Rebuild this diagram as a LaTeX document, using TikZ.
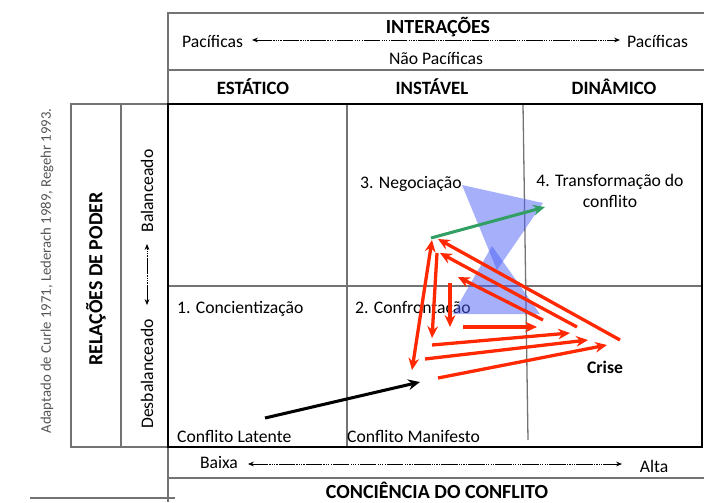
\documentclass[tikz,border=0pt]{standalone}
\usepackage{fontspec}
\setmainfont{Carlito}
\usetikzlibrary{arrows.meta}
\definecolor{linha}{RGB}{115,115,115}
\definecolor{vermelho}{RGB}{255,40,0}
\definecolor{verde}{RGB}{50,160,100}
\definecolor{azul}{RGB}{75,95,245}
\definecolor{cinza}{RGB}{85,85,85}

\tikzset{
  txt/.style={font=\fontsize{15}{18}\selectfont, inner sep=0pt},
  cabec/.style={font=\fontsize{16}{19}\selectfont\bfseries, inner sep=0pt},
  titulo/.style={font=\fontsize{17}{20}\selectfont\bfseries, inner sep=0pt},
  grade/.style={linha, line width=1.1pt},
  moldura/.style={black, line width=1.8pt},
  escala/.style={{Stealth[length=5pt,width=4pt]}-{Stealth[length=5pt,width=4pt]}, line width=0.6pt,
    dash pattern=on 14pt off 1pt on 1pt off 1pt on 1pt off 1pt on 1pt off 1pt on 1pt off 1pt},
  seta/.style={vermelho, line width=2.8pt, -{Stealth[length=10pt,width=9pt]}},
}

\begin{document}
\begin{tikzpicture}[x=0.85pt,y=-0.85pt]
    \useasboundingbox (0,0) rectangle (704,502);

    % quadro
    \draw[grade] (168,104) -- (168,13) -- (704,13);
    \draw[grade] (168,70) -- (704,70);
    \draw[grade] (71,104) rectangle (168,447);
    \draw[grade] (121,104) -- (121,447);
    \draw[grade] (347,104) -- (347,447);
    \draw[grade] (523,104) -- (528,440);
    \draw[grade] (168,286) -- (702,286);
    \draw[grade] (168,447) -- (168,502);
    \draw[grade] (168,478) -- (704,478);
    \draw[grade] (30,498) -- (175,498);
    \draw[moldura] (168,104) rectangle (702,447);

    % interacoes
    \node[titulo] (inter) at (438,27) {INTERAÇÕES};
    \node[txt, anchor=west] (pacE) at (182,41) {Pacíficas};
    \node[txt, anchor=west] (pacD) at (627,41) {Pacíficas};
    \node[txt] (naopac) at (436,58) {Não Pacíficas};
    \coordinate (i1) at (252,40);
    \coordinate (i2) at (620,40);
    \draw[escala] (i1) -- (i2);

    \node[cabec] (est) at (253,87) {ESTÁTICO};
    \node[cabec] (inst) at (432,87) {INSTÁVEL};
    \node[cabec] (din) at (614,87) {DINÂMICO};

    % poder
    \node[txt, rotate=90, text=cinza, font=\fontsize{12.5}{14}\selectfont] (fonte) at (47,271) {Adaptado de Curle 1971, Lederach 1989, Regehr 1993.};
    \node[titulo, rotate=90] (poder) at (96,279) {RELAÇÕES DE PODER};
    \node[txt, rotate=90] (bal) at (147,191) {Balanceado};
    \node[txt, rotate=90] (desbal) at (147,374) {Desbalanceado};
    \coordinate (p1) at (147,305);
    \coordinate (p2) at (147,244);
    \draw[escala] (p1) -- (p2);

    % celulas
    \node[txt, anchor=west] (concient) at (177,309) {1. Concientização};
    \node[txt, anchor=west] (confront) at (355,309) {2. Confrontação};
    \node[txt, anchor=west] (negoc) at (360,184) {3. Negociação};
    \node[txt, align=center] (transf) at (610,191) {4. Transformação do\\conflito};
    \node[txt, anchor=west] (latente) at (177,436) {Conflito Latente};
    \node[txt, anchor=west] (manif) at (347,436) {Conflito Manifesto};
    \node[cabec, font=\fontsize{15}{18}\selectfont\bfseries] (crise) at (605,367) {Crise};

    % consciencia
    \node[txt] (baixa) at (219,462) {Baixa};
    \node[txt] (alta) at (654,466) {Alta};
    \coordinate (c1) at (248,464);
    \coordinate (c2) at (622,464);
    \draw[escala] (c1) -- (c2);
    \node[titulo] (consc) at (437,490) {CONCIÊNCIA DO CONFLITO};

    % triangulos
    \fill[azul, opacity=.5] (462,185) -- (543,203) -- (497,270) -- cycle;
    \fill[azul, opacity=.5] (492,246) -- (540,314) -- (453,314) -- cycle;

    % setas
    \coordinate (lat) at (265,418);
    \coordinate (man) at (420,382);
    \draw[black, line width=2.6pt, -{Stealth[length=10pt,width=9pt]}] (lat) -- (man);

    \coordinate (neg) at (431,238);
    \coordinate (tra) at (545,207);
    \draw[verde, line width=2.6pt, -{Stealth[length=10pt,width=9pt]}] (neg) -- (tra);

    \coordinate (r1a) at (620,340);  \coordinate (r1b) at (438,239);
    \coordinate (r2a) at (577,327);  \coordinate (r2b) at (440,253);
    \coordinate (r3a) at (543,320);  \coordinate (r3b) at (458,277);
    \coordinate (r4a) at (450,283);  \coordinate (r4b) at (450,327);
    \coordinate (r5a) at (437,253);  \coordinate (r5b) at (432,338);
    \coordinate (r6a) at (432,240);  \coordinate (r6b) at (412,370);
    \coordinate (r7a) at (463,327);  \coordinate (r7b) at (537,327);
    \coordinate (r8a) at (432,345);  \coordinate (r8b) at (570,333);
    \coordinate (r9a) at (425,359);  \coordinate (r9b) at (588,340);
    \coordinate (r10a) at (438,378); \coordinate (r10b) at (607,345);

    \draw[seta] (r1a) -- (r1b);
    \draw[seta] (r2a) -- (r2b);
    \draw[seta] (r3a) -- (r3b);
    \draw[seta] (r4a) -- (r4b);
    \draw[seta] (r5a) -- (r5b);
    \draw[seta, {Stealth[length=10pt,width=9pt]}-{Stealth[length=10pt,width=9pt]}] (r6a) -- (r6b);
    \draw[seta] (r7a) -- (r7b);
    \draw[seta] (r8a) -- (r8b);
    \draw[seta] (r9a) -- (r9b);
    \draw[seta] (r10a) -- (r10b);

\end{tikzpicture}
\end{document}
